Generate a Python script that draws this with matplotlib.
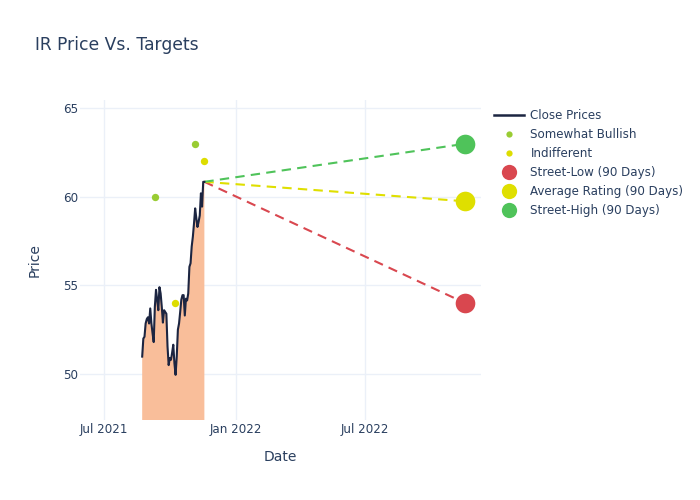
import numpy as np
import pandas as pd
import matplotlib
matplotlib.use("Agg")
import matplotlib.pyplot as plt
import matplotlib.dates as mdates
from matplotlib.lines import Line2D

# Close prices (Aug 23 - Nov 18, 2021)
close = [50.98, 52.0, 52.1, 52.85, 53.1, 53.2, 52.85, 53.7, 52.85, 52.3,
         51.8, 53.8, 54.75, 54.2, 53.6, 54.9, 54.55, 53.8, 52.9, 53.6,
         53.5, 53.4, 51.55, 50.5, 50.9, 50.8, 51.2, 51.65, 50.6, 49.95,
         50.98, 52.5, 52.85, 53.5, 54.2, 54.45, 54.45, 53.3, 54.25, 54.15,
         54.55, 56.05, 56.25, 57.2, 57.75, 58.5, 59.35, 58.8, 58.3, 58.6,
         58.95, 60.2, 59.45, 60.85, 60.85]
close_dates = pd.date_range("2021-08-23", "2021-11-18", periods=len(close))

bullish_dates = pd.to_datetime(["2021-09-10", "2021-11-05"])
bullish_prices = [60, 63]
indiff_dates = pd.to_datetime(["2021-10-08", "2021-11-18"])
indiff_prices = [54, 62]

target_date = pd.Timestamp("2022-11-18")
street_low = 54.0
avg_rating = 59.75
street_high = 63.0

text_col = "#2a3f5f"
grid_col = "#EBF0F8"
c_line = "#1c2541"
c_bull = "#99cc33"
c_indiff = "#dddd00"
c_low = "#d9474f"
c_avg = "#dfdf00"
c_high = "#4fc35a"
plt.rcParams["font.family"] = ["DejaVu Sans"]

fig = plt.figure(figsize=(7, 5), dpi=100)
ax = fig.add_axes([80 / 700, 80 / 500, 401 / 700, 320 / 500])

ax.fill_between(close_dates, 0, close, color="#F9BE9A", lw=0, zorder=1)
ax.plot(close_dates, close, color=c_line, lw=1.5, zorder=3)

last_date = close_dates[-1]
last_price = close[-1]
for val, col in [(street_low, c_low), (avg_rating, c_avg), (street_high, c_high)]:
    ax.plot([last_date, target_date], [last_price, val], color=col, lw=1.5,
            dashes=(4.5, 3), zorder=2)

ax.scatter(bullish_dates, bullish_prices, s=28, color=c_bull, zorder=4, linewidths=0)
ax.scatter(indiff_dates, indiff_prices, s=28, color=c_indiff, zorder=4, linewidths=0)
ax.scatter([target_date], [street_low], s=200, color=c_low, zorder=4, linewidths=0)
ax.scatter([target_date], [avg_rating], s=200, color=c_avg, zorder=4, linewidths=0)
ax.scatter([target_date], [street_high], s=200, color=c_high, zorder=4, linewidths=0)

ax.set_xlim(pd.Timestamp("2021-05-28"), pd.Timestamp("2022-12-10"))
ax.set_ylim(47.4, 65.47)
ax.set_yticks([50, 55, 60, 65])
ax.set_xticks(pd.to_datetime(["2021-07-01", "2022-01-01", "2022-07-01"]))
ax.xaxis.set_major_formatter(mdates.DateFormatter("%b %Y"))
ax.grid(True, color=grid_col, lw=1, zorder=0)
ax.set_axisbelow(True)
for s in ax.spines.values():
    s.set_visible(False)
ax.tick_params(length=0, colors=text_col, labelsize=8.6)
ax.tick_params(axis="y", pad=1.5)
ax.tick_params(axis="x", pad=2)
ax.set_xlabel("Date", color=text_col, fontsize=10, labelpad=10)
ax.set_ylabel("Price", color=text_col, fontsize=10, labelpad=15)

fig.text(35 / 700, 1 - 45 / 500, "IR Price Vs. Targets", color=text_col,
         fontsize=12.3, va="center", ha="left")

handles = [
    Line2D([], [], color=c_line, lw=1.8),
    Line2D([], [], ls="", marker="o", ms=4.5, color=c_bull, mew=0),
    Line2D([], [], ls="", marker="o", ms=4.5, color=c_indiff, mew=0),
    Line2D([], [], ls="", marker="o", ms=11, color=c_low, mew=0),
    Line2D([], [], ls="", marker="o", ms=11, color=c_avg, mew=0),
    Line2D([], [], ls="", marker="o", ms=11, color=c_high, mew=0),
]
labels = ["Close Prices", "Somewhat Bullish", "Indifferent",
          "Street-Low (90 Days)", "Average Rating (90 Days)", "Street-High (90 Days)"]
leg = fig.legend(handles, labels, loc="upper left",
                 bbox_to_anchor=(494 / 700, 1 - 109 / 500), frameon=False,
                 fontsize=8.6, labelspacing=0.5, handlelength=2.5,
                 handletextpad=0.55, borderaxespad=0, borderpad=0)
for t in leg.get_texts():
    t.set_color(text_col)

fig.savefig("out.png", dpi=100)
